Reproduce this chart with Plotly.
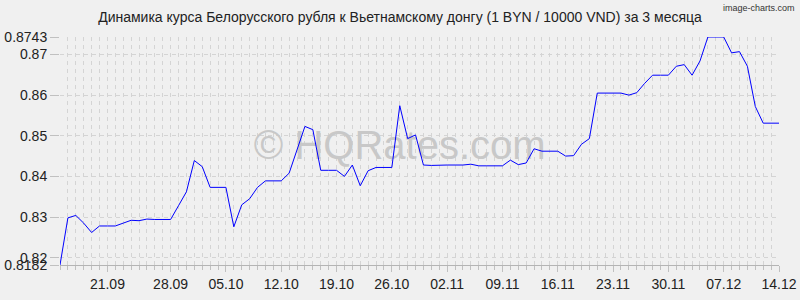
import plotly.graph_objects as go

title_text = "Динамика курса Белорусского рубля к Вьетнамскому донгу (1 BYN / 10000 VND) за 3 месяца"

rates = [
    0.8182, 0.8298, 0.8304, 0.8285, 0.8262, 0.8278, 0.8278, 0.8278, 0.8285, 0.8292,
    0.8291, 0.8295, 0.8294, 0.8294, 0.8294, 0.8328, 0.8362, 0.8439, 0.8424, 0.8373,
    0.8373, 0.8373, 0.8276, 0.8330, 0.8345, 0.8373, 0.8389, 0.8389, 0.8389, 0.8408,
    0.8466, 0.8523, 0.8515, 0.8415, 0.8415, 0.8415, 0.8400, 0.8428, 0.8377, 0.8414,
    0.8422, 0.8422, 0.8422, 0.8574, 0.8493, 0.8502, 0.8428, 0.8427, 0.8428, 0.8428,
    0.8428, 0.8428, 0.8430, 0.8426, 0.8426, 0.8426, 0.8426, 0.8440, 0.8429, 0.8433,
    0.8468, 0.8462, 0.8462, 0.8462, 0.8450, 0.8451, 0.8479, 0.8493, 0.8605, 0.8605,
    0.8605, 0.8605, 0.8600, 0.8606, 0.8629, 0.8649, 0.8649, 0.8649, 0.8671, 0.8675,
    0.8649, 0.8684, 0.8743, 0.8743, 0.8743, 0.8704, 0.8707, 0.8671, 0.8572, 0.8531,
    0.8531, 0.8531,
]
x_index = list(range(len(rates)))

x_tick_index = [6, 14, 21, 28, 35, 42, 49, 56, 63, 70, 77, 84, 91]
x_tick_labels = ["21.09", "28.09", "05.10", "12.10", "19.10", "26.10", "02.11",
                 "09.11", "16.11", "23.11", "30.11", "07.12", "14.12"]

y_min, y_max = 0.8182, 0.8743
y_tick_values = [0.8182, 0.82, 0.83, 0.84, 0.85, 0.86, 0.87, 0.8743]
y_tick_labels = ["0.8182", "0.82", "0.83", "0.84", "0.85", "0.86", "0.87", "0.8743"]

watermark = "© HQRates.com"
credit = "image-charts.com"

BG = "#f0f0f0"
GRID = "#d4d4d4"
TICK = "#c0c0c0"
FONT = "Liberation Sans, Arial, sans-serif"

fig = go.Figure()

# watermark beneath the data line
fig.add_trace(go.Scatter(
    x=[43], y=[0.8467], mode="text", text=[watermark],
    textfont=dict(family=FONT, size=40, color="#c8c8c8"),
    textposition="middle center", hoverinfo="skip", showlegend=False,
))

fig.add_trace(go.Scatter(
    x=x_index, y=rates, mode="lines",
    line=dict(color="#0000ff", width=1),
    showlegend=False,
))

fig.update_layout(
    width=800, height=300,
    margin=dict(l=60, r=21, t=37, b=35, autoexpand=False),
    paper_bgcolor=BG, plot_bgcolor=BG,
    font=dict(family=FONT, size=14, color="#222222"),
    title=dict(text=title_text, x=0.5, xanchor="center", y=1 - 17 / 300,
               yanchor="middle", yref="container",
               font=dict(family=FONT, size=14, color="#222222")),
    annotations=[dict(text=credit, xref="paper", yref="paper",
                      x=(797 - 60) / 719, y=1 + (37 - 8) / 228,
                      xanchor="right", yanchor="middle", showarrow=False,
                      font=dict(family=FONT, size=9, color="#333333"))],
)

fig.update_xaxes(
    range=[0, len(rates) - 1], automargin=False,
    tickmode="array", tickvals=x_tick_index, ticktext=x_tick_labels,
    ticks="outside", ticklen=6, tickcolor=TICK,
    showgrid=True, gridcolor=GRID, griddash="4px,4px", gridwidth=1,
    minor=dict(dtick=1, tick0=0, showgrid=True, gridcolor=GRID,
               griddash="4px,4px", ticks="outside", ticklen=4, tickcolor=TICK),
    showline=True, linecolor="#b4b4b4", linewidth=1,
    zeroline=False, tickfont=dict(size=14, color="#222222"),
)

fig.update_yaxes(
    range=[y_min, y_max], automargin=False,
    tickmode="array", tickvals=y_tick_values, ticktext=y_tick_labels,
    ticks="outside", ticklen=9, tickcolor=TICK,
    showgrid=True, gridcolor=GRID, griddash="4px,4px", gridwidth=1,
    showline=False, zeroline=False, tickfont=dict(size=14, color="#222222"),
)

fig.write_html("out.html")
